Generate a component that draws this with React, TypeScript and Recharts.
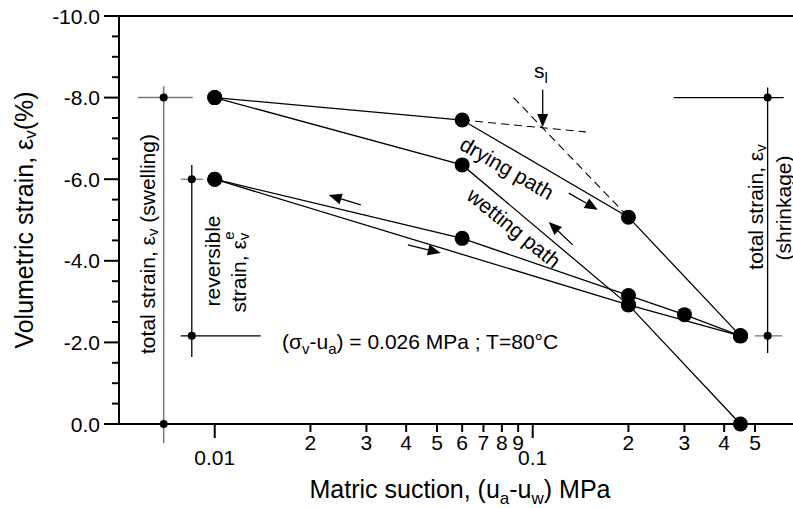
import React from 'react';
import {
  ComposedChart,
  Scatter,
  XAxis,
  YAxis,
  ReferenceLine,
  ReferenceDot,
  Customized,
} from 'recharts';

const FONT = '"Liberation Sans", Arial, Helvetica, sans-serif';

// ---- data (suction in MPa, volumetric strain in %) ----
const wet1Suction = [0.45, 0.2, 0.06, 0.01];
const wet1Strain = [0.0, -2.92, -6.35, -8.0];
const dry1Suction = [0.01, 0.06, 0.2, 0.45];
const dry1Strain = [-8.0, -7.45, -5.07, -2.16];
const wet2Suction = [0.45, 0.3, 0.2, 0.06, 0.01];
const wet2Strain = [-2.16, -2.68, -3.15, -4.55, -6.0];
const dry2Suction = [0.01, 0.2, 0.45];
const dry2Strain = [-6.0, -2.92, -2.16];

// ---- axes ----
const xTicks = [0.01, 0.02, 0.03, 0.04, 0.05, 0.06, 0.07, 0.08, 0.09, 0.1, 0.2, 0.3, 0.4, 0.5];
const xMajor = [0.01, 0.1];
const yTicks = [-10, -9.5, -9, -8.5, -8, -7.5, -7, -6.5, -6, -5.5, -5, -4.5, -4, -3.5, -3, -2.5, -2, -1.5, -1, -0.5, 0];
const yMajor = [-10, -8, -6, -4, -2, 0];

// ---- annotation markers (strain ranges) ----
const totalSwellX = 0.00691;
const totalSwellRange = [-8.0, 0.0];
const reversibleX = 0.00847;
const reversibleRange = [-6.0, -2.16];
const totalShrinkX = 0.548;
const totalShrinkRange = [-8.0, -2.16];

const toPoints = (xs: number[], ys: number[]) => xs.map((s, i) => ({ s, e: ys[i] }));

const wet1 = toPoints(wet1Suction, wet1Strain);
const dry1 = toPoints(dry1Suction, dry1Strain);
const wet2 = toPoints(wet2Suction, wet2Strain);
const dry2 = toPoints(dry2Suction, dry2Strain);

const BigDot = (p: any) => <circle cx={p.cx} cy={p.cy} r={7.5} fill="#000" />;

const XTick = (props: any) => {
  const { x, y, payload } = props;
  const v = payload.value as number;
  const major = xMajor.some((m) => Math.abs(m - v) < 1e-9);
  const label = major ? String(v) : String(Math.round(v / (v < 0.1 ? 0.01 : 0.1)));
  return (
    <g>
      <line x1={x} y1={y} x2={x} y2={y + (major ? 14 : 8)} stroke="#000" strokeWidth={2} />
      <text
        x={x}
        y={y + (major ? 41 : 26)}
        textAnchor="middle"
        fontSize={21}
        fontFamily={FONT}
        fill="#000"
      >
        {label}
      </text>
    </g>
  );
};

const YTick = (props: any) => {
  const { x, y, payload } = props;
  const v = payload.value as number;
  const major = yMajor.some((m) => Math.abs(m - v) < 1e-9);
  return (
    <g>
      <line x1={x - (major ? 15 : 7)} y1={y} x2={x} y2={y} stroke="#000" strokeWidth={2} />
      {major && (
        <text
          x={x - 19}
          y={y}
          textAnchor="end"
          dominantBaseline="central"
          fontSize={21}
          fontFamily={FONT}
          fill="#000"
        >
          {v.toFixed(1)}
        </text>
      )}
    </g>
  );
};

const Arrow = (p: any) => {
  const { x1, y1, x2, y2 } = p;
  const dx = x2 - x1;
  const dy = y2 - y1;
  const L = Math.hypot(dx, dy) || 1;
  const ux = dx / L;
  const uy = dy / L;
  const hl = 13;
  const hw = 5.5;
  const bx = x2 - ux * hl;
  const by = y2 - uy * hl;
  return (
    <g>
      <line x1={x1} y1={y1} x2={bx} y2={by} stroke="#000" strokeWidth={1.3} />
      <polygon
        points={`${x2},${y2} ${bx - uy * hw},${by + ux * hw} ${bx + uy * hw},${by - ux * hw}`}
        fill="#000"
      />
    </g>
  );
};

const txt = { fontFamily: FONT, fill: '#000' } as const;

const Annotations = () => (
  <g>
    {/* axis titles */}
    <text transform="translate(24,220) rotate(-90)" textAnchor="middle" dominantBaseline="central" fontSize={25} {...txt}>
      Volumetric strain, ε<tspan dy={6} fontSize={17}>v</tspan>
      <tspan dy={-6}>(%)</tspan>
    </text>
    <text x={460} y={498} textAnchor="middle" fontSize={25} {...txt}>
      Matric suction, (u<tspan dy={6} fontSize={17}>a</tspan>
      <tspan dy={-6}>-u</tspan>
      <tspan dy={6} fontSize={17}>w</tspan>
      <tspan dy={-6}>) MPa</tspan>
    </text>

    {/* left labels */}
    <text transform="translate(147,244) rotate(-90)" textAnchor="middle" dominantBaseline="central" fontSize={21} {...txt}>
      total strain, ε<tspan dy={5} fontSize={15}>v</tspan>
      <tspan dy={-5}> (swelling)</tspan>
    </text>
    <text transform="translate(212,261) rotate(-90)" textAnchor="middle" dominantBaseline="central" fontSize={21} {...txt}>
      reversible
    </text>
    <text transform="translate(238,272) rotate(-90)" textAnchor="middle" dominantBaseline="central" fontSize={21} {...txt}>
      strain,  ε<tspan dy={5} fontSize={15}>v</tspan>
      <tspan dx={-7} dy={-15} fontSize={15}>e</tspan>
    </text>

    {/* condition */}
    <text x={282} y={349} fontSize={21} {...txt}>
      (σ<tspan dy={5} fontSize={15}>v</tspan>
      <tspan dy={-5}>-u</tspan>
      <tspan dy={5} fontSize={15}>a</tspan>
      <tspan dy={-5}>) = 0.026 MPa ; T=80°C</tspan>
    </text>

    {/* path labels */}
    <text transform="translate(507,168) rotate(30)" textAnchor="middle" dominantBaseline="central" fontSize={21} {...txt}>
      drying path
    </text>
    <text transform="translate(514,228) rotate(39)" textAnchor="middle" dominantBaseline="central" fontSize={21} {...txt}>
      wetting path
    </text>

    {/* right labels */}
    <text transform="translate(755,207) rotate(-90)" textAnchor="middle" dominantBaseline="central" fontSize={21} {...txt}>
      total strain, ε<tspan dy={5} fontSize={15}>v</tspan>
    </text>
    <text transform="translate(783,208) rotate(-90)" textAnchor="middle" dominantBaseline="central" fontSize={21} {...txt}>
      (shrinkage)
    </text>

    {/* s_l */}
    <text x={534} y={78} fontSize={21} {...txt}>
      s<tspan dy={5} fontSize={15}>l</tspan>
    </text>
  </g>
);

const seg = (x1: number, y1: number, x2: number, y2: number) => [
  { x: x1, y: y1 },
  { x: x2, y: y2 },
];

export default function App() {
  return (
    <div style={{ position: 'absolute', left: 0, top: 0, width: 793, height: 508, background: '#fff' }}>
      <ComposedChart width={793} height={508} margin={{ top: 16, right: 0, bottom: 0, left: 0 }}>
        <XAxis
          type="number"
          dataKey="s"
          scale="log"
          domain={[0.005, 0.6585]}
          ticks={xTicks}
          interval={0}
          tickSize={0}
          tickMargin={0}
          tickLine={false}
          tick={<XTick />}
          axisLine={{ stroke: '#000', strokeWidth: 2 }}
          height={84}
        />
        <YAxis
          type="number"
          dataKey="e"
          domain={[-10, 0]}
          reversed
          ticks={yTicks}
          interval={0}
          tickSize={0}
          tickMargin={0}
          tickLine={false}
          tick={<YTick />}
          axisLine={{ stroke: '#000', strokeWidth: 2 }}
          width={119}
        />

        {/* top frame */}
        <ReferenceLine y={-10} stroke="#000" strokeWidth={2} ifOverflow="visible" />

        {/* total strain (swelling) marker */}
        <ReferenceLine segment={seg(totalSwellX, -8.28, totalSwellX, 0.47)} stroke="#777" strokeWidth={1.5} ifOverflow="visible" />
        <ReferenceLine segment={seg(0.00573, totalSwellRange[0], 0.00853, totalSwellRange[0])} stroke="#777" strokeWidth={1.5} ifOverflow="visible" />
        <ReferenceDot x={totalSwellX} y={totalSwellRange[0]} r={4} fill="#000" stroke="none" ifOverflow="visible" />
        <ReferenceDot x={totalSwellX} y={totalSwellRange[1]} r={4} fill="#000" stroke="none" ifOverflow="visible" />

        {/* reversible strain marker */}
        <ReferenceLine segment={seg(reversibleX, -6.35, reversibleX, -1.64)} stroke="#000" strokeWidth={1.3} ifOverflow="visible" />
        <ReferenceLine segment={seg(0.00782, reversibleRange[0], 0.00917, reversibleRange[0])} stroke="#777" strokeWidth={1.3} ifOverflow="visible" />
        <ReferenceLine segment={seg(0.00782, reversibleRange[1], 0.01395, reversibleRange[1])} stroke="#000" strokeWidth={1.3} ifOverflow="visible" />
        <ReferenceDot x={reversibleX} y={reversibleRange[0]} r={4} fill="#000" stroke="none" ifOverflow="visible" />
        <ReferenceDot x={reversibleX} y={reversibleRange[1]} r={4} fill="#000" stroke="none" ifOverflow="visible" />

        {/* total strain (shrinkage) marker */}
        <ReferenceLine segment={seg(totalShrinkX, -8.25, totalShrinkX, -1.74)} stroke="#000" strokeWidth={1.3} ifOverflow="visible" />
        <ReferenceLine segment={seg(0.2776, totalShrinkRange[0], 0.6155, totalShrinkRange[0])} stroke="#000" strokeWidth={1.3} ifOverflow="visible" />
        <ReferenceLine segment={seg(0.499, totalShrinkRange[1], 0.609, totalShrinkRange[1])} stroke="#777" strokeWidth={1.3} ifOverflow="visible" />
        <ReferenceDot x={totalShrinkX} y={totalShrinkRange[0]} r={4} fill="#000" stroke="none" ifOverflow="visible" />
        <ReferenceDot x={totalShrinkX} y={totalShrinkRange[1]} r={4} fill="#000" stroke="none" ifOverflow="visible" />

        {/* construction lines for s_l */}
        <ReferenceLine segment={seg(0.06, -7.45, 0.147, -7.16)} stroke="#000" strokeWidth={1.1} strokeDasharray="8 5" ifOverflow="visible" />
        <ReferenceLine segment={seg(0.087, -8.0, 0.2, -5.07)} stroke="#000" strokeWidth={1.1} strokeDasharray="8 5" ifOverflow="visible" />

        {/* arrows */}
        <ReferenceLine segment={seg(0.1075, -8.19, 0.1075, -7.28)} shape={Arrow} ifOverflow="visible" />
        <ReferenceLine segment={seg(0.1298, -5.66, 0.1601, -5.25)} shape={Arrow} ifOverflow="visible" />
        <ReferenceLine segment={seg(0.1336, -4.39, 0.1123, -4.95)} shape={Arrow} ifOverflow="visible" />
        <ReferenceLine segment={seg(0.0288, -5.37, 0.02283, -5.61)} shape={Arrow} ifOverflow="visible" />
        <ReferenceLine segment={seg(0.0405, -4.39, 0.0514, -4.19)} shape={Arrow} ifOverflow="visible" />

        {/* data paths */}
        <Scatter data={wet1} line={{ stroke: '#000', strokeWidth: 1.3 }} lineType="joint" shape={BigDot} isAnimationActive={false} />
        <Scatter data={dry1} line={{ stroke: '#000', strokeWidth: 1.3 }} lineType="joint" shape={BigDot} isAnimationActive={false} />
        <Scatter data={wet2} line={{ stroke: '#000', strokeWidth: 1.3 }} lineType="joint" shape={BigDot} isAnimationActive={false} />
        <Scatter data={dry2} line={{ stroke: '#000', strokeWidth: 1.3 }} lineType="joint" shape={BigDot} isAnimationActive={false} />

        <Customized component={Annotations} />
      </ComposedChart>
    </div>
  );
}
